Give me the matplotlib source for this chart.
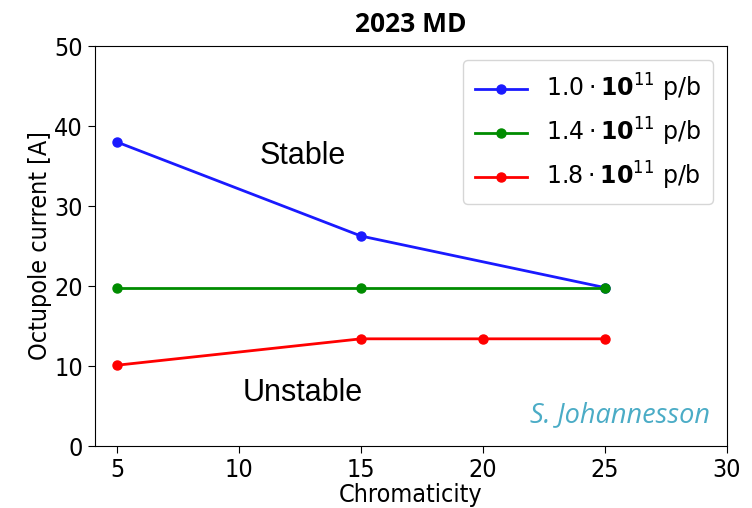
import matplotlib
matplotlib.use("Agg")
import matplotlib.pyplot as plt
from matplotlib.font_manager import FontProperties

# Chromaticity scan and threshold octupole currents per bunch intensity
chroma_low = [5, 15, 25]
current_low = [38.0, 26.25, 19.8]

chroma_mid = [5, 15, 25]
current_mid = [19.8, 19.8, 19.8]

chroma_high = [5, 15, 20, 25]
current_high = [10.1, 13.4, 13.4, 13.4]

x_ticks = [5, 10, 15, 20, 25, 30]
y_ticks = [0, 10, 20, 30, 40, 50]

labels = [r"$1.0\cdot\mathbf{10}^{11}$ p/b",
          r"$1.4\cdot\mathbf{10}^{11}$ p/b",
          r"$1.8\cdot\mathbf{10}^{11}$ p/b"]
colors = ["#1a1aff", "#008c00", "#ff0000"]

fig = plt.figure(figsize=(7.52, 5.08), dpi=100)
ax = fig.add_axes([0.1263, 0.122, 0.8405, 0.7874])

series = [(chroma_low, current_low), (chroma_mid, current_mid), (chroma_high, current_high)]
for (x, y), lab, c in zip(series, labels, colors):
    ax.plot(x, y, "-o", color=c, lw=2, ms=6.5, label=lab)

ax.set_xlim(4.1, 30)
ax.set_ylim(0, 50)
ax.set_xticks(x_ticks)
ax.set_yticks(y_ticks)
ax.tick_params(length=5)

narrow = dict(family="DejaVu Sans", stretch="condensed", size=18)
ax.set_xticklabels([str(t) for t in x_ticks], **narrow)
ax.set_yticklabels([str(t) for t in y_ticks], **narrow)

ax.set_xlabel("Chromaticity", labelpad=1, **narrow)
ax.set_ylabel("Octupole current [A]", labelpad=2, **narrow)
ax.set_title("2023 MD", fontsize=19, fontweight="bold", family="Open Sans", pad=10)

ax.text(12.6, 36.2, "Stable", fontsize=22, family="Liberation Sans",
        ha="center", va="center")
ax.text(12.6, 6.6, "Unstable", fontsize=22, family="Liberation Sans",
        ha="center", va="center")
ax.text(29.3, 3.9, "S. Johannesson", fontsize=19.5, style="italic", family="Open Sans",
        color="#4bacc6", ha="right", va="center")

legend_font = FontProperties(family="DejaVu Sans", size=17)
leg = ax.legend(loc="upper right", prop=legend_font, handlelength=2.2, borderpad=0.5,
                labelspacing=0.5, borderaxespad=0.6)

fig.savefig("out.png", dpi=100)
